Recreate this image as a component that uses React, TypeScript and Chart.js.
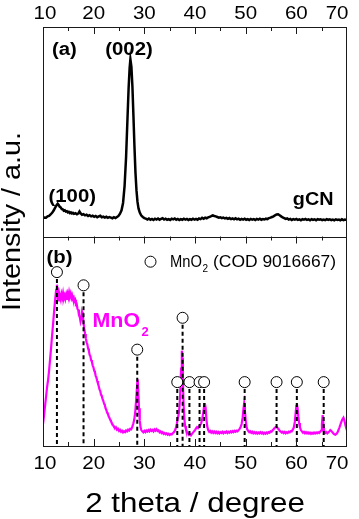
import React, { useEffect, useRef } from "react";
import { Chart, registerables } from "chart.js";

Chart.register(...registerables);

// ---- data (2 theta in degrees, intensity in arbitrary units per panel 0..100) ----
const xTickValues = [10, 20, 30, 40, 50, 60, 70];

const gcnPattern: [number, number][] = [
  [10.0, 8.7], [10.3, 9.1], [10.6, 9.0], [10.9, 9.6], [11.2, 9.8], [11.5, 10.5], [11.8, 11.3], [12.1, 12.4],
  [12.4, 13.8], [12.7, 15.0], [12.9, 15.6], [13.1, 15.0], [13.3, 14.2], [13.5, 13.9], [13.7, 13.1], [13.9, 13.0],
  [14.1, 12.3], [14.3, 12.5], [14.5, 11.9], [14.7, 12.1], [14.9, 11.5], [15.1, 11.8], [15.3, 11.2], [15.5, 11.5],
  [15.7, 11.0], [15.9, 11.3], [16.1, 10.8], [16.4, 11.1], [16.7, 10.6], [17.0, 11.0], [17.2, 11.9], [17.4, 11.1],
  [17.7, 10.4], [18.0, 10.7], [18.3, 10.1], [18.6, 10.4], [18.9, 9.8], [19.2, 10.2], [19.5, 9.6], [19.8, 9.9],
  [20.1, 9.4], [20.4, 9.8], [20.7, 9.2], [21.0, 9.6], [21.3, 9.9], [21.6, 9.2], [21.9, 9.5], [22.2, 9.0],
  [22.5, 9.4], [22.8, 8.9], [23.1, 9.3], [23.4, 9.0], [23.7, 8.7], [24.0, 9.2], [24.3, 8.8], [24.6, 9.3],
  [24.9, 9.8], [25.2, 10.9], [25.5, 12.5], [25.8, 16.0], [26.1, 24.0], [26.4, 38.0], [26.7, 58.0], [26.9, 71.0],
  [27.1, 80.5], [27.25, 84.6], [27.45, 81.0], [27.65, 71.5], [27.85, 57.5], [28.05, 43.0], [28.25, 30.5], [28.45, 22.0],
  [28.65, 16.5], [28.85, 13.4], [29.1, 11.4], [29.4, 10.0], [29.7, 9.3], [30.0, 8.8], [30.3, 8.5], [30.6, 8.1],
  [30.9, 8.6], [31.2, 8.0], [31.5, 8.4], [31.8, 7.9], [32.1, 8.5], [32.4, 8.1], [32.7, 8.6], [33.0, 8.0],
  [33.3, 8.4], [33.6, 8.7], [33.9, 8.1], [34.2, 8.5], [34.5, 8.0], [34.8, 8.3], [35.1, 7.9], [35.4, 8.5],
  [35.7, 8.2], [36.0, 8.6], [36.3, 8.0], [36.6, 8.4], [36.9, 7.9], [37.2, 8.3], [37.5, 8.0], [37.8, 8.5],
  [38.1, 8.1], [38.4, 8.4], [38.7, 7.9], [39.0, 8.3], [39.3, 8.0], [39.6, 8.5], [39.9, 8.1], [40.2, 8.4],
  [40.5, 8.0], [40.8, 8.6], [41.1, 8.3], [41.4, 8.9], [41.7, 8.5], [42.0, 9.0], [42.3, 8.7], [42.6, 9.1],
  [42.9, 9.4], [43.2, 9.7], [43.5, 10.1], [43.8, 9.8], [44.1, 9.6], [44.4, 9.3], [44.7, 9.0], [45.0, 9.2],
  [45.3, 8.8], [45.6, 9.0], [45.9, 8.6], [46.2, 8.9], [46.5, 8.4], [46.8, 8.8], [47.1, 8.3], [47.4, 8.6],
  [47.7, 8.2], [48.0, 8.7], [48.3, 8.2], [48.6, 8.5], [48.9, 8.0], [49.2, 8.4], [49.5, 8.1], [49.8, 8.5],
  [50.1, 8.0], [50.4, 8.3], [50.7, 7.9], [51.0, 8.4], [51.3, 8.0], [51.6, 8.3], [51.9, 7.9], [52.2, 8.4],
  [52.5, 8.1], [52.8, 8.5], [53.1, 8.0], [53.4, 8.3], [53.7, 8.1], [54.0, 8.5], [54.3, 8.3], [54.6, 8.8],
  [54.9, 9.0], [55.2, 9.3], [55.5, 9.6], [55.8, 10.1], [56.1, 10.5], [56.4, 10.6], [56.7, 10.1], [57.0, 9.6],
  [57.3, 9.1], [57.6, 8.8], [57.9, 8.4], [58.2, 8.6], [58.5, 8.1], [58.8, 8.4], [59.1, 7.9], [59.4, 8.3],
  [59.7, 8.0], [60.0, 8.4], [60.3, 7.9], [60.6, 8.2], [60.9, 7.8], [61.2, 8.3], [61.5, 8.0], [61.8, 8.4],
  [62.1, 7.9], [62.4, 8.2], [62.7, 7.8], [63.0, 8.3], [63.3, 7.9], [63.6, 8.2], [63.9, 7.8], [64.2, 8.3],
  [64.5, 8.0], [64.8, 8.2], [65.1, 7.8], [65.4, 8.1], [65.7, 7.8], [66.0, 8.3], [66.3, 7.9], [66.6, 8.2],
  [66.9, 7.8], [67.2, 8.1], [67.5, 7.7], [67.8, 8.2], [68.1, 7.9], [68.4, 8.1], [68.7, 7.7], [69.0, 8.2],
  [69.3, 7.8], [69.6, 8.1], [70.0, 7.9],
];

const mno2Pattern: [number, number][] = [
  [10.0, 10.5], [10.2, 14.5], [10.4, 19.0], [10.6, 23.5], [10.8, 28.0], [11.0, 31.5], [11.2, 36.0], [11.4, 41.5],
  [11.6, 47.0], [11.8, 53.0], [12.0, 58.5], [12.2, 64.5], [12.4, 70.0], [12.6, 74.5], [12.75, 77.0], [12.9, 71.0],
  [13.05, 72.8], [13.2, 69.5], [13.35, 71.5], [13.5, 70.0], [13.65, 72.5], [13.8, 71.0], [13.95, 73.0], [14.1, 70.5],
  [14.25, 71.8], [14.4, 70.2], [14.55, 72.0], [14.7, 69.8], [14.85, 72.6], [15.0, 71.2], [15.15, 73.4], [15.3, 71.5],
  [15.45, 72.8], [15.6, 70.8], [15.75, 72.0], [15.9, 70.5], [16.05, 71.0], [16.2, 69.2], [16.35, 69.8], [16.5, 67.5],
  [16.65, 67.8], [16.8, 65.5], [16.95, 65.0], [17.1, 62.5], [17.25, 61.5], [17.4, 59.5], [17.55, 61.0], [17.7, 64.0],
  [17.85, 62.5], [18.0, 58.5], [18.15, 56.0], [18.3, 53.5], [18.45, 51.5], [18.6, 49.5], [18.75, 48.5], [18.9, 46.5],
  [19.05, 45.5], [19.2, 43.5], [19.35, 42.8], [19.5, 41.0], [19.65, 40.2], [19.8, 38.5], [19.95, 37.6], [20.1, 36.0],
  [20.25, 35.2], [20.4, 33.5], [20.55, 32.6], [20.7, 31.0], [20.85, 29.8], [21.0, 28.5], [21.15, 27.0], [21.3, 26.2],
  [21.45, 24.5], [21.6, 23.8], [21.75, 22.5], [21.9, 21.6], [22.05, 20.2], [22.2, 19.5], [22.35, 18.0], [22.5, 17.2],
  [22.65, 16.0], [22.8, 15.3], [22.95, 14.2], [23.1, 13.5], [23.25, 12.6], [23.4, 11.8], [23.55, 11.2], [23.7, 10.3],
  [23.85, 9.8], [24.0, 9.2], [24.2, 8.5], [24.4, 8.9], [24.6, 7.8], [24.8, 8.2], [25.0, 7.2], [25.2, 7.7],
  [25.4, 6.8], [25.6, 7.3], [25.8, 6.5], [26.0, 7.0], [26.2, 6.6], [26.4, 7.4], [26.6, 7.0], [26.8, 7.8],
  [27.0, 7.4], [27.2, 8.2], [27.4, 8.0], [27.6, 9.0], [27.8, 10.5], [28.0, 12.5], [28.2, 16.0], [28.4, 22.5],
  [28.6, 30.0], [28.7, 31.8], [28.8, 27.0], [28.95, 18.0], [29.1, 12.0], [29.25, 9.0], [29.4, 7.6], [29.6, 7.0],
  [29.8, 6.5], [30.0, 7.2], [30.2, 6.6], [30.4, 7.4], [30.6, 6.9], [30.8, 7.6], [31.0, 7.0], [31.2, 7.8],
  [31.4, 7.2], [31.6, 7.7], [31.8, 7.0], [32.0, 7.9], [32.2, 7.3], [32.4, 8.0], [32.6, 7.2], [32.8, 7.5],
  [33.0, 6.6], [33.2, 7.0], [33.4, 6.2], [33.6, 6.6], [33.8, 5.8], [34.0, 6.2], [34.2, 5.6], [34.4, 6.0],
  [34.6, 5.4], [34.8, 5.8], [35.0, 5.3], [35.2, 5.7], [35.4, 5.5], [35.6, 6.1], [35.8, 6.5], [36.0, 7.2],
  [36.2, 8.4], [36.4, 10.5], [36.6, 13.0], [36.8, 15.5], [36.95, 19.0], [37.1, 26.0], [37.25, 37.0], [37.4, 45.5],
  [37.5, 42.0], [37.6, 32.0], [37.75, 20.0], [37.9, 13.0], [38.05, 9.5], [38.2, 8.0], [38.4, 6.8], [38.6, 6.0],
  [38.8, 5.3], [39.0, 5.7], [39.2, 5.1], [39.4, 5.8], [39.6, 6.4], [39.8, 7.0], [40.0, 7.6], [40.2, 8.4],
  [40.4, 9.0], [40.6, 8.6], [40.8, 9.4], [41.0, 9.8], [41.2, 10.8], [41.4, 12.5], [41.6, 15.5], [41.8, 19.0],
  [41.95, 20.5], [42.1, 18.0], [42.25, 13.0], [42.4, 9.5], [42.6, 7.6], [42.8, 6.8], [43.0, 7.2], [43.2, 6.4],
  [43.4, 7.0], [43.6, 6.3], [43.8, 6.9], [44.0, 6.2], [44.2, 6.8], [44.4, 6.1], [44.6, 6.7], [44.8, 6.0],
  [45.0, 6.6], [45.2, 6.2], [45.4, 6.8], [45.6, 6.1], [45.8, 6.7], [46.0, 6.3], [46.2, 6.9], [46.4, 6.2],
  [46.6, 6.8], [46.8, 6.4], [47.0, 7.0], [47.2, 6.5], [47.4, 7.1], [47.6, 6.6], [47.8, 7.2], [48.0, 6.8],
  [48.2, 7.3], [48.4, 7.0], [48.6, 7.6], [48.8, 8.2], [49.0, 9.0], [49.2, 10.5], [49.4, 13.5], [49.55, 17.5],
  [49.7, 20.3], [49.85, 17.0], [50.0, 12.5], [50.15, 9.5], [50.3, 8.0], [50.5, 7.2], [50.7, 6.6], [50.9, 7.0],
  [51.1, 6.3], [51.3, 6.8], [51.5, 6.1], [51.7, 6.6], [51.9, 6.0], [52.1, 6.5], [52.3, 5.9], [52.5, 6.4],
  [52.7, 6.0], [52.9, 6.6], [53.1, 6.0], [53.3, 6.5], [53.5, 5.8], [53.7, 6.3], [53.9, 5.9], [54.1, 6.4],
  [54.3, 6.0], [54.5, 6.6], [54.7, 6.3], [54.9, 7.0], [55.1, 6.8], [55.3, 7.5], [55.5, 7.9], [55.7, 8.6],
  [55.9, 9.0], [56.1, 9.2], [56.3, 8.6], [56.5, 8.0], [56.7, 7.3], [56.9, 6.9], [57.1, 6.4], [57.3, 6.8],
  [57.5, 6.2], [57.7, 6.7], [57.9, 6.1], [58.1, 6.6], [58.3, 6.2], [58.5, 6.8], [58.7, 6.5], [58.9, 7.1],
  [59.1, 7.0], [59.3, 7.8], [59.5, 8.8], [59.7, 11.5], [59.85, 15.5], [60.0, 19.0], [60.1, 20.3], [60.25, 18.0],
  [60.4, 14.0], [60.55, 11.0], [60.7, 9.0], [60.9, 7.6], [61.1, 7.0], [61.3, 6.4], [61.5, 6.8], [61.7, 6.1],
  [61.9, 6.6], [62.1, 6.0], [62.3, 6.5], [62.5, 5.9], [62.7, 6.4], [62.9, 5.8], [63.1, 6.3], [63.3, 5.9],
  [63.5, 6.4], [63.7, 6.0], [63.9, 6.5], [64.1, 6.1], [64.3, 6.6], [64.5, 6.2], [64.7, 6.8], [64.9, 7.4],
  [65.05, 10.5], [65.2, 14.8], [65.35, 10.0], [65.5, 7.0], [65.7, 6.2], [65.9, 6.6], [66.1, 6.0], [66.3, 6.5],
  [66.5, 6.9], [66.7, 7.6], [66.9, 7.2], [67.1, 6.6], [67.3, 6.0], [67.5, 5.6], [67.7, 5.4], [67.9, 5.8],
  [68.1, 6.4], [68.3, 7.5], [68.5, 8.8], [68.7, 10.2], [68.9, 11.6], [69.1, 12.8], [69.3, 13.5], [69.5, 12.2],
  [69.7, 9.8], [69.85, 8.5], [70.0, 7.5],
];

// MnO2 reference reflections (COD 9016667): position and marker height
const refTheta = [12.75, 18.0, 28.6, 36.5, 37.55, 38.9, 40.9, 41.8, 49.8, 56.1, 60.1, 65.4];
const refMarkY = [83.0, 76.7, 46.0, 30.5, 61.2, 30.5, 30.5, 30.5, 30.5, 30.5, 30.5, 30.5];

const FONT = '"Liberation Sans", Arial, Helvetica, sans-serif';

function drawText(
  ctx: CanvasRenderingContext2D,
  s: string,
  x: number,
  y: number,
  font: string,
  align: CanvasTextAlign,
  sx: number,
  color = "#000"
) {
  ctx.save();
  ctx.font = font;
  ctx.fillStyle = color;
  ctx.textAlign = align;
  ctx.textBaseline = "alphabetic";
  ctx.translate(x, y);
  ctx.scale(sx, 1);
  ctx.fillText(s, 0, 0);
  ctx.restore();
}

const decorPlugin = {
  id: "decor",
  afterDatasetsDraw(chart: any) {
    const ctx: CanvasRenderingContext2D = chart.ctx;
    const area = chart.chartArea;
    const xs = chart.scales.x;
    const yA = chart.scales.yA;
    const divider = yA.bottom;

    ctx.save();
    ctx.strokeStyle = "#1a1a1a";
    ctx.lineWidth = 1;
    ctx.strokeRect(Math.round(area.left) + 0.5, Math.round(area.top) + 0.5, Math.round(area.right - area.left) - 1, Math.round(area.bottom - area.top));
    ctx.beginPath();
    ctx.moveTo(area.left, Math.round(divider) + 0.5);
    ctx.lineTo(area.right, Math.round(divider) + 0.5);
    ctx.stroke();

    // inward tick marks
    ctx.beginPath();
    for (let v = 15; v < 70; v += 5) {
      const px = Math.round(xs.getPixelForValue(v)) + 0.5;
      const len = v % 10 === 0 ? 7 : 4;
      ctx.moveTo(px, area.top);
      ctx.lineTo(px, area.top + len);
      ctx.moveTo(px, divider);
      ctx.lineTo(px, divider + len);
      ctx.moveTo(px, area.bottom);
      ctx.lineTo(px, area.bottom - len);
    }
    ctx.stroke();
    ctx.restore();

    // tick labels (top and bottom)
    const tickFont = `19px ${FONT}`;
    ctx.save();
    ctx.font = tickFont;
    for (const v of xTickValues) {
      const label = String(v);
      const w = ctx.measureText(label).width * 1.08;
      let cx = xs.getPixelForValue(v);
      cx = Math.max(33.5 + w / 2, Math.min(348.5 - w / 2, cx));
      drawText(ctx, label, cx, 18.5, tickFont, "center", 1.08);
      drawText(ctx, label, cx, 468.5, tickFont, "center", 1.08);
    }
    ctx.restore();

    // axis titles
    drawText(ctx, "2 theta / degree", (area.left + area.right) / 2, 511.5, `28px ${FONT}`, "center", 1.12);
    ctx.save();
    ctx.translate(19.8, 221.5);
    ctx.rotate(-Math.PI / 2);
    drawText(ctx, "Intensity / a.u.", 0, 0, `25px ${FONT}`, "center", 1.15);
    ctx.restore();

    // panel annotations
    const bold = `bold 18px ${FONT}`;
    drawText(ctx, "(a)", 52, 55, bold, "left", 1.13);
    drawText(ctx, "(002)", 129, 54.5, bold, "center", 1.13);
    drawText(ctx, "(100)", 48.5, 201.5, bold, "left", 1.13);
    drawText(ctx, "gCN", 333.5, 205, bold, "right", 1.1);
    drawText(ctx, "(b)", 46.5, 263, bold, "left", 1.13);
    drawText(ctx, "MnO", 92.5, 327, `bold 21px ${FONT}`, "left", 1.02, "#ff00ff");
    drawText(ctx, "2", 141.5, 335.5, `bold 13px ${FONT}`, "left", 1.0, "#ff00ff");

    // legend for reference markers
    ctx.save();
    ctx.beginPath();
    ctx.arc(150.5, 261.7, 5.5, 0, Math.PI * 2);
    ctx.fillStyle = "#fff";
    ctx.fill();
    ctx.strokeStyle = "#000";
    ctx.lineWidth = 1;
    ctx.stroke();
    ctx.restore();
    drawText(ctx, "MnO", 170, 266.7, `16px ${FONT}`, "left", 0.92);
    drawText(ctx, "2", 202.5, 271.5, `10px ${FONT}`, "left", 1.0);
    drawText(ctx, "(COD 9016667)", 213, 266.7, `16px ${FONT}`, "left", 1.09);
  },
};

export default function App() {
  const ref = useRef<HTMLCanvasElement | null>(null);

  useEffect(() => {
    if (!ref.current) return;

    const refLines: { x: number; y: number | null }[] = [];
    refTheta.forEach((t, i) => {
      refLines.push({ x: t, y: refMarkY[i] });
      refLines.push({ x: t, y: 0 });
      refLines.push({ x: t, y: null });
    });

    const hidden = {
      display: true,
      grid: { display: false, drawTicks: false },
      border: { display: false },
      ticks: { display: false },
    };

    const chart = new Chart(ref.current, {
      type: "line",
      data: {
        datasets: [
          {
            label: "gCN",
            data: gcnPattern.map(([x, y]) => ({ x, y })),
            xAxisID: "x",
            yAxisID: "yA",
            borderColor: "#000",
            borderWidth: 2.5,
            pointRadius: 0,
            tension: 0,
            order: 3,
          },
          {
            label: "MnO2",
            data: mno2Pattern.map(([x, y]) => ({ x, y })),
            xAxisID: "x",
            yAxisID: "yB",
            borderColor: "#ff00ff",
            borderWidth: 2.2,
            pointRadius: 0,
            tension: 0,
            order: 2,
          },
          {
            label: "COD lines",
            data: refLines as any,
            xAxisID: "x",
            yAxisID: "yB",
            borderColor: "#000",
            borderWidth: 2,
            borderDash: [4, 3],
            pointRadius: 0,
            spanGaps: false,
            order: 1,
          },
          {
            label: "COD 9016667",
            data: refTheta.map((x, i) => ({ x, y: refMarkY[i] })),
            xAxisID: "x",
            yAxisID: "yB",
            showLine: false,
            pointStyle: "circle",
            pointRadius: 5.5,
            pointBackgroundColor: "#fff",
            pointBorderColor: "#000",
            pointBorderWidth: 1,
            order: 0,
          },
        ],
      },
      options: {
        responsive: false,
        animation: false,
        events: [],
        layout: { padding: { left: 0, right: 12, top: 0, bottom: 0 } },
        plugins: { legend: { display: false }, tooltip: { enabled: false } },
        scales: {
          x: {
            type: "linear",
            position: "bottom",
            min: 10,
            max: 70,
            ...hidden,
            afterFit: (s: any) => {
              s.height = 73;
            },
          },
          xTop: {
            type: "linear",
            position: "top",
            min: 10,
            max: 70,
            ...hidden,
            afterFit: (s: any) => {
              s.height = 27;
            },
          },
          yB: {
            type: "linear",
            position: "left",
            stack: "panels",
            stackWeight: 1,
            min: 0,
            max: 100,
            ...hidden,
            afterFit: (s: any) => {
              s.width = 43;
            },
          },
          yA: {
            type: "linear",
            position: "left",
            stack: "panels",
            stackWeight: 1,
            min: 0,
            max: 100,
            ...hidden,
            afterFit: (s: any) => {
              s.width = 43;
            },
          },
        } as any,
      },
      plugins: [decorPlugin],
    });

    return () => chart.destroy();
  }, []);

  return (
    <div style={{ position: "absolute", left: 0, top: 0, width: 359, height: 519, background: "#fff" }}>
      <canvas ref={ref} width={359} height={519} style={{ display: "block" }} />
    </div>
  );
}
